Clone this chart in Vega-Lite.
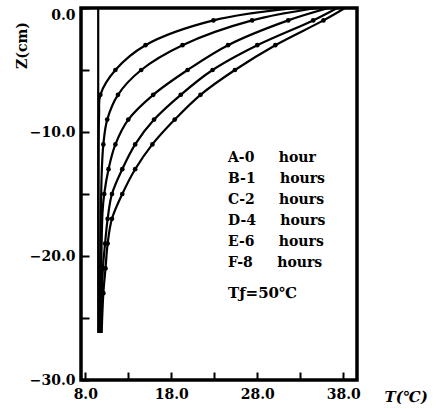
{
  "$schema": "https://vega.github.io/schema/vega-lite/v6.json",
  "width": 276,
  "height": 372,
  "autosize": {"type": "none"},
  "padding": {"left": 81, "top": 8, "right": 83, "bottom": 29},
  "background": "white",
  "config": {
    "view": {"stroke": "black", "strokeWidth": 3.5},
    "axis": {"ticks": true, "tickColor": "black", "tickSize": -8, "tickWidth": 2, "domain": false, "grid": false}
  },
  "data": {
    "values": [
      {"curve": "A-0 hour", "T": 9.5, "Z": 0},
      {"curve": "A-0 hour", "T": 9.5, "Z": -26.2},
      {"curve": "B-1 hours", "T": 32.5, "Z": 0},
      {"curve": "B-1 hours", "T": 22.9, "Z": -1},
      {"curve": "B-1 hours", "T": 15.0, "Z": -3},
      {"curve": "B-1 hours", "T": 11.5, "Z": -5},
      {"curve": "B-1 hours", "T": 9.75, "Z": -7},
      {"curve": "B-1 hours", "T": 9.6, "Z": -8.6},
      {"curve": "B-1 hours", "T": 9.6, "Z": -26.2},
      {"curve": "C-2 hours", "T": 35.0, "Z": 0},
      {"curve": "C-2 hours", "T": 27.4, "Z": -1},
      {"curve": "C-2 hours", "T": 19.3, "Z": -3},
      {"curve": "C-2 hours", "T": 14.5, "Z": -5},
      {"curve": "C-2 hours", "T": 11.8, "Z": -7},
      {"curve": "C-2 hours", "T": 10.55, "Z": -9},
      {"curve": "C-2 hours", "T": 10.1, "Z": -11},
      {"curve": "C-2 hours", "T": 9.9, "Z": -13.5},
      {"curve": "C-2 hours", "T": 9.7, "Z": -26.2},
      {"curve": "D-4 hours", "T": 36.3, "Z": 0},
      {"curve": "D-4 hours", "T": 31.6, "Z": -1},
      {"curve": "D-4 hours", "T": 24.6, "Z": -3},
      {"curve": "D-4 hours", "T": 19.9, "Z": -5},
      {"curve": "D-4 hours", "T": 15.9, "Z": -7},
      {"curve": "D-4 hours", "T": 13.0, "Z": -9},
      {"curve": "D-4 hours", "T": 11.5, "Z": -11},
      {"curve": "D-4 hours", "T": 10.7, "Z": -13},
      {"curve": "D-4 hours", "T": 10.2, "Z": -15},
      {"curve": "D-4 hours", "T": 10.0, "Z": -16.5},
      {"curve": "D-4 hours", "T": 9.8, "Z": -26.2},
      {"curve": "E-6 hours", "T": 37.3, "Z": 0},
      {"curve": "E-6 hours", "T": 34.5, "Z": -1},
      {"curve": "E-6 hours", "T": 28.0, "Z": -3},
      {"curve": "E-6 hours", "T": 22.8, "Z": -5},
      {"curve": "E-6 hours", "T": 19.1, "Z": -7},
      {"curve": "E-6 hours", "T": 16.0, "Z": -9},
      {"curve": "E-6 hours", "T": 13.8, "Z": -11},
      {"curve": "E-6 hours", "T": 12.3, "Z": -13},
      {"curve": "E-6 hours", "T": 11.1, "Z": -15},
      {"curve": "E-6 hours", "T": 10.6, "Z": -17},
      {"curve": "E-6 hours", "T": 10.3, "Z": -19},
      {"curve": "E-6 hours", "T": 10.05, "Z": -21},
      {"curve": "E-6 hours", "T": 9.85, "Z": -26.2},
      {"curve": "F-8 hours", "T": 38.2, "Z": 0},
      {"curve": "F-8 hours", "T": 35.7, "Z": -1},
      {"curve": "F-8 hours", "T": 30.1, "Z": -3},
      {"curve": "F-8 hours", "T": 25.4, "Z": -5},
      {"curve": "F-8 hours", "T": 21.4, "Z": -7},
      {"curve": "F-8 hours", "T": 18.4, "Z": -9},
      {"curve": "F-8 hours", "T": 15.8, "Z": -11},
      {"curve": "F-8 hours", "T": 13.8, "Z": -13},
      {"curve": "F-8 hours", "T": 12.3, "Z": -15},
      {"curve": "F-8 hours", "T": 11.1, "Z": -17},
      {"curve": "F-8 hours", "T": 10.6, "Z": -19},
      {"curve": "F-8 hours", "T": 10.35, "Z": -21},
      {"curve": "F-8 hours", "T": 10.1, "Z": -23},
      {"curve": "F-8 hours", "T": 9.9, "Z": -26.2}
    ]
  },
  "encoding": {
    "x": {
      "field": "T",
      "type": "quantitative",
      "scale": {"domain": [7.5, 39.6], "nice": false, "zero": false},
      "axis": {
        "values": [8, 13, 18, 23, 28, 33, 38],
        "labelExpr": "(datum.value - 8) % 10 == 0 ? format(datum.value, '.1f') : ''",
        "labelFont": "DejaVu Serif",
        "labelFontWeight": "bold",
        "labelFontSize": 14,
        "labelColor": "black",
        "labelPadding": 15,
        "title": "T(℃)",
        "titleFont": "DejaVu Serif",
        "titleFontWeight": "bold",
        "titleFontStyle": "italic",
        "titleFontSize": 15,
        "titleColor": "black",
        "titleAlign": "left",
        "titleBaseline": "middle",
        "titleX": 303,
        "titleY": 16
      }
    },
    "y": {
      "field": "Z",
      "type": "quantitative",
      "scale": {"domain": [-30, 0], "nice": false, "zero": false},
      "axis": {
        "values": [0, -5, -10, -15, -20, -25, -30],
        "labelExpr": "datum.value % 10 == 0 ? format(datum.value, '.1f') : ''",
        "labelBaseline": {"condition": {"test": "datum.value == 0", "value": "top"}, "value": "middle"},
        "labelFont": "DejaVu Serif",
        "labelFontWeight": "bold",
        "labelFontSize": 14,
        "labelColor": "black",
        "labelPadding": 14,
        "title": "Z(cm)",
        "titleFont": "DejaVu Serif",
        "titleFontWeight": "bold",
        "titleFontSize": 14,
        "titleColor": "black",
        "titleAngle": -90,
        "titleAlign": "center",
        "titleBaseline": "middle",
        "titleX": -59,
        "titleY": 37
      }
    }
  },
  "layer": [
    {
      "mark": {"type": "line", "interpolate": "catmull-rom", "strokeWidth": 2.2, "clip": true},
      "encoding": {
        "color": {
          "field": "curve",
          "type": "nominal",
          "scale": {"range": ["black", "black", "black", "black", "black", "black"]},
          "legend": {
            "orient": "none",
            "legendX": 147,
            "legendY": 143,
            "title": "Tƒ=50℃",
            "titleOrient": "bottom",
            "titleAnchor": "start",
            "titleFont": "DejaVu Serif",
            "titleFontWeight": "bold",
            "titleFontSize": 15,
            "titleColor": "black",
            "titlePadding": 16,
            "labelFont": "DejaVu Serif",
            "labelFontWeight": "bold",
            "labelFontSize": 14,
            "labelColor": "black",
            "symbolOpacity": 0,
            "symbolSize": 0,
            "symbolStrokeWidth": 0,
            "labelOffset": -14,
            "rowPadding": 7,
            "labelExpr": "replace(datum.label, ' ', '\u00a0\u00a0\u00a0\u00a0\u00a0')"
          }
        },
        "order": {"field": "Z", "sort": "descending"}
      }
    },
    {
      "transform": [{"filter": "datum.curve != 'A-0 hour' && abs(datum.Z % 2) == 1"}],
      "mark": {"type": "point", "filled": true, "size": 22, "color": "black", "opacity": 1}
    }
  ]
}
